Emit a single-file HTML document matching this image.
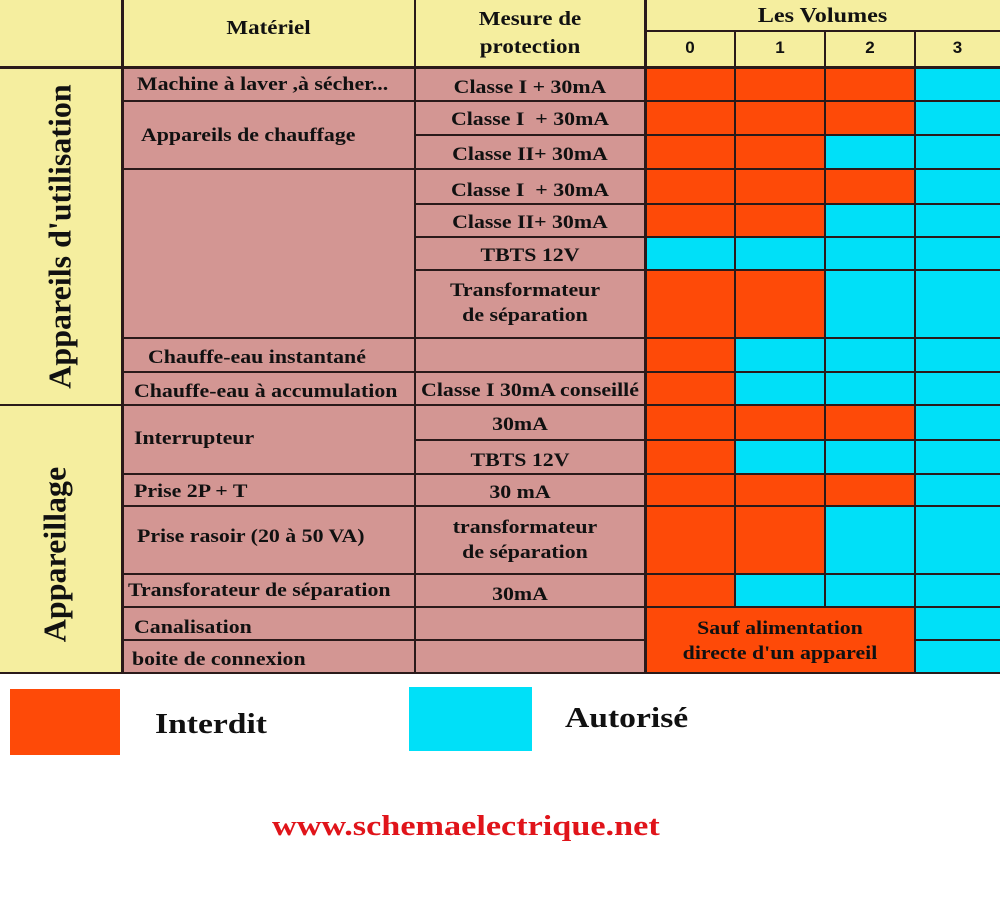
<!DOCTYPE html>
<html><head><meta charset="utf-8"><style>
body{margin:0;width:1000px;height:900px;background:#fff;position:relative;overflow:hidden;font-family:"Liberation Serif",serif;font-weight:bold;color:#111}
div{position:absolute;box-sizing:border-box}
.h{height:2px;background:#2a1a1a}
.v{width:2px;background:#2a1a1a}
.t{font-size:19px;white-space:nowrap;transform:scaleX(1.15);transform-origin:left center;margin-top:2px}
.c{text-align:center;transform-origin:center center}
.o{background:#fe4a08}.k{background:#00e0f8}
.n{font-family:"Liberation Sans",sans-serif;font-size:17px;text-align:center;width:90px;top:38px}
</style></head><body>
<div style="left:0;top:0;width:1000px;height:67px;background:#f5ee9f"></div>
<div style="left:0;top:67px;width:122px;height:606px;background:#f5ee9f"></div>
<div style="left:122px;top:67px;width:523px;height:606px;background:#d39693"></div>

<div class="o" style="left:645px;top:67px;width:270px;height:34px"></div>
<div class="k" style="left:915px;top:67px;width:85px;height:606px"></div>
<div class="o" style="left:645px;top:101px;width:270px;height:34px"></div>
<div class="o" style="left:645px;top:135px;width:180px;height:34px"></div><div class="k" style="left:825px;top:135px;width:90px;height:34px"></div>
<div class="o" style="left:645px;top:169px;width:270px;height:35px"></div>
<div class="o" style="left:645px;top:204px;width:180px;height:33px"></div><div class="k" style="left:825px;top:204px;width:90px;height:33px"></div>
<div class="k" style="left:645px;top:237px;width:270px;height:33px"></div>
<div class="o" style="left:645px;top:270px;width:180px;height:68px"></div><div class="k" style="left:825px;top:270px;width:90px;height:68px"></div>
<div class="o" style="left:645px;top:338px;width:90px;height:67px"></div><div class="k" style="left:735px;top:338px;width:180px;height:67px"></div>
<div class="o" style="left:645px;top:405px;width:270px;height:35px"></div>
<div class="o" style="left:645px;top:440px;width:90px;height:34px"></div><div class="k" style="left:735px;top:440px;width:180px;height:34px"></div>
<div class="o" style="left:645px;top:474px;width:270px;height:32px"></div>
<div class="o" style="left:645px;top:506px;width:180px;height:68px"></div><div class="k" style="left:825px;top:506px;width:90px;height:68px"></div>
<div class="o" style="left:645px;top:574px;width:90px;height:33px"></div><div class="k" style="left:735px;top:574px;width:180px;height:33px"></div>
<div class="o" style="left:645px;top:607px;width:270px;height:66px"></div>

<div class="h" style="left:0;top:66px;width:1000px;height:3px"></div>
<div class="h" style="left:645px;top:30px;width:355px"></div>
<div class="h" style="left:0;top:672px;width:1000px"></div>
<div class="v" style="left:121px;top:0;height:673px;width:3px"></div>
<div class="v" style="left:414px;top:0;height:673px"></div>
<div class="v" style="left:644px;top:0;height:673px;width:3px"></div>
<div class="v" style="left:734px;top:30px;height:577px"></div>
<div class="v" style="left:824px;top:30px;height:577px"></div>
<div class="v" style="left:914px;top:30px;height:643px"></div>
<div class="h" style="left:0;top:404px;width:122px"></div>
<div class="h" style="left:122px;top:100px;width:293px"></div>
<div class="h" style="left:122px;top:168px;width:293px"></div>
<div class="h" style="left:122px;top:337px;width:293px"></div>
<div class="h" style="left:122px;top:371px;width:293px"></div>
<div class="h" style="left:122px;top:404px;width:293px"></div>
<div class="h" style="left:122px;top:473px;width:293px"></div>
<div class="h" style="left:122px;top:505px;width:293px"></div>
<div class="h" style="left:122px;top:573px;width:293px"></div>
<div class="h" style="left:122px;top:606px;width:293px"></div>
<div class="h" style="left:122px;top:639px;width:293px"></div>
<div class="h" style="left:415px;top:100px;width:585px"></div>
<div class="h" style="left:415px;top:134px;width:585px"></div>
<div class="h" style="left:415px;top:168px;width:585px"></div>
<div class="h" style="left:415px;top:203px;width:585px"></div>
<div class="h" style="left:415px;top:236px;width:585px"></div>
<div class="h" style="left:415px;top:269px;width:585px"></div>
<div class="h" style="left:415px;top:337px;width:585px"></div>
<div class="h" style="left:415px;top:371px;width:585px"></div>
<div class="h" style="left:415px;top:404px;width:585px"></div>
<div class="h" style="left:415px;top:439px;width:585px"></div>
<div class="h" style="left:415px;top:473px;width:585px"></div>
<div class="h" style="left:415px;top:505px;width:585px"></div>
<div class="h" style="left:415px;top:573px;width:585px"></div>
<div class="h" style="left:415px;top:606px;width:585px"></div>
<div class="h" style="left:415px;top:639px;width:230px"></div>
<div class="h" style="left:915px;top:639px;width:85px"></div>

<div class="t c" style="left:122px;top:15px;width:293px;font-size:20px">Matériel</div>
<div class="t c" style="left:415px;top:3px;width:230px;font-size:20px;line-height:28px">Mesure de<br>protection</div>
<div class="t c" style="left:645px;top:1px;width:355px;font-size:21px">Les Volumes</div>
<div class="n" style="left:645px">0</div><div class="n" style="left:735px">1</div><div class="n" style="left:825px">2</div><div class="n" style="left:915px;width:85px">3</div>

<div style="left:-125px;top:218px;width:370px;text-align:center;font-size:32px;transform:rotate(-90deg);white-space:nowrap">Appareils d'utilisation</div>
<div style="left:-55px;top:536px;width:220px;text-align:center;font-size:32px;transform:rotate(-90deg)">Appareillage</div>

<div class="t" style="left:137px;top:72px">Machine à laver ,à sécher...</div>
<div class="t" style="left:141px;top:123px">Appareils de chauffage</div>
<div class="t" style="left:148px;top:345px">Chauffe-eau instantané</div>
<div class="t" style="left:134px;top:379px">Chauffe-eau à accumulation</div>
<div class="t" style="left:134px;top:426px">Interrupteur</div>
<div class="t" style="left:134px;top:479px">Prise 2P + T</div>
<div class="t" style="left:137px;top:524px">Prise rasoir (20 à 50 VA)</div>
<div class="t" style="left:128px;top:578px">Transforateur de séparation</div>
<div class="t" style="left:134px;top:615px">Canalisation</div>
<div class="t" style="left:132px;top:647px">boite de connexion</div>

<div class="t c" style="left:415px;top:75px;width:230px">Classe I + 30mA</div>
<div class="t c" style="left:415px;top:107px;width:230px">Classe I &nbsp;+ 30mA</div>
<div class="t c" style="left:415px;top:142px;width:230px">Classe II+ 30mA</div>
<div class="t c" style="left:415px;top:178px;width:230px">Classe I &nbsp;+ 30mA</div>
<div class="t c" style="left:415px;top:210px;width:230px">Classe II+ 30mA</div>
<div class="t c" style="left:415px;top:243px;width:230px">TBTS 12V</div>
<div class="t c" style="left:415px;top:276px;width:220px;line-height:25px">Transformateur<br>de séparation</div>
<div class="t c" style="left:415px;top:378px;width:230px">Classe I 30mA conseillé</div>
<div class="t c" style="left:415px;top:412px;width:210px">30mA</div>
<div class="t c" style="left:415px;top:448px;width:210px">TBTS 12V</div>
<div class="t c" style="left:415px;top:480px;width:210px">30 mA</div>
<div class="t c" style="left:415px;top:513px;width:220px;line-height:25px">transformateur<br>de séparation</div>
<div class="t c" style="left:415px;top:582px;width:210px">30mA</div>
<div class="t c" style="left:645px;top:614px;width:270px;line-height:25px">Sauf alimentation<br>directe d'un appareil</div>

<div class="o" style="left:10px;top:689px;width:110px;height:66px"></div>
<div style="left:155px;top:709px;font-size:28px;transform:scaleX(1.2);transform-origin:left">Interdit</div>
<div class="k" style="left:409px;top:687px;width:123px;height:64px"></div>
<div style="left:565px;top:703px;font-size:28px;transform:scaleX(1.2);transform-origin:left">Autorisé</div>
<div style="left:272px;top:810px;font-size:29px;color:#e0141a;transform:scaleX(1.18);transform-origin:left;white-space:nowrap">www.schemaelectrique.net</div>
</body></html>
